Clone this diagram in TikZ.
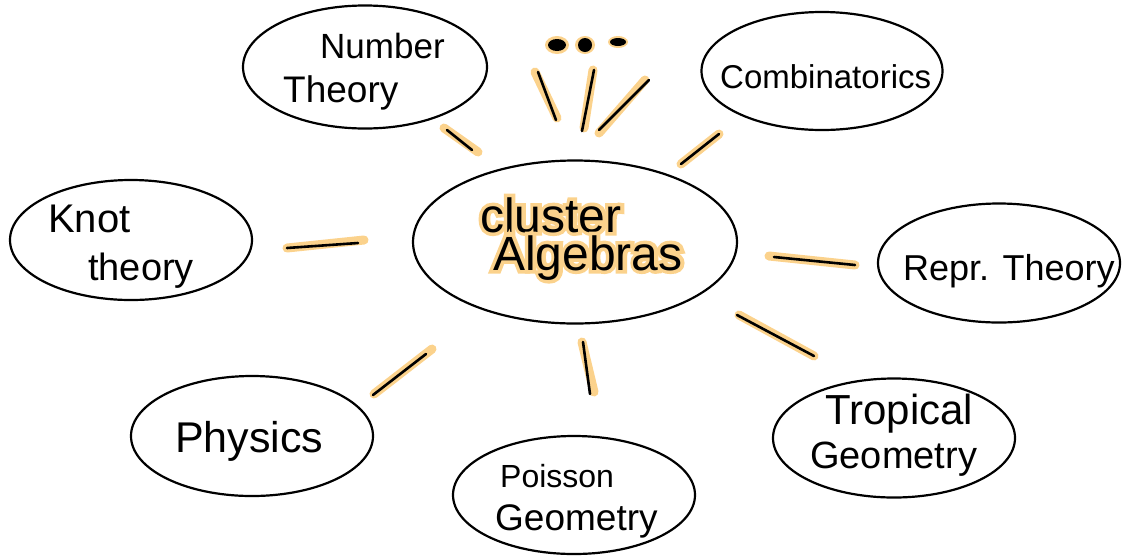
\documentclass[tikz,border=0pt]{standalone}
\usepackage{fontspec}
\setmainfont{Liberation Sans}
\newfontfamily\hand{Liberation Sans}
\newfontfamily\handglow[FakeBold=15]{Liberation Sans}
\usetikzlibrary{shapes.geometric}
\definecolor{hl}{HTML}{FBD28C}
\begin{document}
\begin{tikzpicture}[x=1pt,y=-1pt,
  bubble/.style={draw=black, line width=2.2pt, ellipse, inner sep=0pt},
  glow/.style={draw=hl, line width=9pt, line cap=round},
  ink/.style={draw=black, line width=2.6pt, line cap=round},
  lbl/.style={anchor=base west, inner sep=0pt, font=\hand\fontsize{#1}{#1}\selectfont},
  lbl/.default=30]
\useasboundingbox (0,0) rectangle (1129,558);

% bubbles
\node[bubble, minimum width=324pt, minimum height=163pt] (center) at (575,242) {};
\node[bubble, minimum width=244pt, minimum height=123pt] (nt) at (365,67) {};
\node[bubble, minimum width=241pt, minimum height=118pt] (comb) at (822,71) {};
\node[bubble, minimum width=242pt, minimum height=120pt] (knot) at (131,240) {};
\node[bubble, minimum width=242pt, minimum height=119pt] (repr) at (999,263) {};
\node[bubble, minimum width=242pt, minimum height=120pt] (phys) at (252,436) {};
\node[bubble, minimum width=242pt, minimum height=118pt] (pois) at (574,495) {};
\node[bubble, minimum width=242pt, minimum height=119pt] (trop) at (894,438) {};

% center text with highlight
\node[lbl=48] (t-cluster) at (480,232)
  {\rlap{\textcolor{hl}{\handglow cluster}}cluster};
\node[lbl=48] (t-alg) at (493,270)
  {\rlap{\textcolor{hl}{\handglow Algebras}}Algebras};

% labels
\node[lbl=35] (t-number) at (320,58) {Number};
\node[lbl=37] (t-theory) at (283,102) {Theory};
\node[lbl=33] (t-comb) at (720,88) {Combinatorics};
\node[lbl=40] (t-knot) at (48,232) {Knot};
\node[lbl=38] (t-ktheory) at (88,280) {theory};
\node[lbl=36] (t-repr) at (903,280) {Repr. Theory};
\node[lbl=43] (t-phys) at (175,452) {Physics};
\node[lbl=32] (t-pois) at (500,487) {Poisson};
\node[lbl=37] (t-pgeo) at (495,530) {Geometry};
\node[lbl=42] (t-trop) at (825,424) {Tropical};
\node[lbl=38] (t-tgeo) at (810,468) {Geometry};

% stroke coordinates
\coordinate (a1) at (444,128); \coordinate (a2) at (478,152);
\coordinate (b1) at (535,72);  \coordinate (b2) at (557,118);
\coordinate (c1) at (593,70);  \coordinate (c2) at (584,128);
\coordinate (d1) at (645,80);  \coordinate (d2) at (599,133);
\coordinate (e1) at (719,134); \coordinate (e2) at (681,164);
\coordinate (f1) at (287,248); \coordinate (f2) at (364,240);
\coordinate (g1) at (769,256); \coordinate (g2) at (855,265);
\coordinate (h1) at (739,315); \coordinate (h2) at (814,356);
\coordinate (i1) at (374,394); \coordinate (i2) at (432,349);
\coordinate (j1) at (582,342); \coordinate (j2) at (594,392);

\foreach \p/\q in {a1/a2,b1/b2,c1/c2,d1/d2,e1/e2,f1/f2,g1/g2,h1/h2,i1/i2,j1/j2}
  \draw[glow] (\p) -- (\q);

\draw[ink] ([shift={(3,2)}]a1) -- ([shift={(-6,-2)}]a2);
\draw[ink] ([shift={(3,0)}]b1) -- ([shift={(-1,2)}]b2);
\draw[ink] ([shift={(1,0)}]c1) -- ([shift={(-2,3)}]c2);
\draw[ink] ([shift={(4,0)}]d1) -- ([shift={(0,-3)}]d2);
\draw[ink] (e1) -- (e2);
\draw[ink] (f1) -- ([shift={(-6,3)}]f2);
\draw[ink] ([shift={(5,1)}]g1) -- (g2);
\draw[ink] ([shift={(-2,0)}]h1) -- (h2);
\draw[ink] ([shift={(-1,1)}]i1) -- ([shift={(-6,5)}]i2);
\draw[ink] ([shift={(1,0)}]j1) -- ([shift={(-4,2)}]j2);

% dots
\coordinate (dot1) at (557,45);
\coordinate (dot2) at (585,45);
\coordinate (dot3) at (618,42);
\fill[hl] (dot1) ellipse [x radius=12, y radius=9];
\fill[hl] (dot2) ellipse [x radius=10, y radius=9];
\fill[hl] (dot3) ellipse [x radius=10, y radius=6];
\fill[black] (dot1) ellipse [x radius=9, y radius=6];
\fill[black] (dot2) ellipse [x radius=7, y radius=7];
\fill[black] (dot3) ellipse [x radius=8, y radius=4];
\end{tikzpicture}
\end{document}
